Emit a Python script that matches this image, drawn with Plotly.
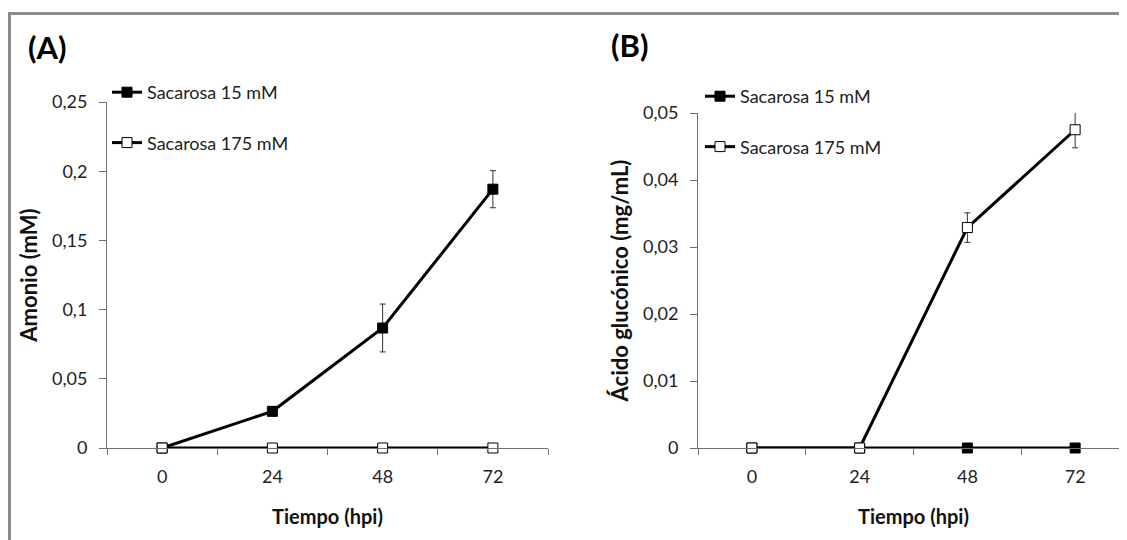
import plotly.graph_objects as go

# ---- data ----
hours = ["0", "24", "48", "72"]
amonio_15 = [0.0, 0.0265, 0.0867, 0.187]
amonio_15_err = [0.0, 0.0, 0.0173, 0.0134]
amonio_175 = [0.0, 0.0, 0.0, 0.0]
gluc_15 = [0.0, 0.0, 0.0, 0.0]
gluc_175 = [0.0, 0.0, 0.0329, 0.0475]
gluc_175_err = [0.0, 0.0, 0.0022, 0.0027]
series_names = ["Sacarosa 15 mM", "Sacarosa 175 mM"]

W, H = 1127, 540
OFF = 8  # page body margin offset
FONT = "Lato"
AXC = "#6f6f6f"

def px_x(v):
    return (v - OFF) / W

def px_y(v):
    return 1 - (v - OFF) / H

fig = go.Figure()

def add(x, y, err, name, filled, xa, ya, leg, grp):
    fig.add_trace(go.Scatter(
        x=x, y=y, name=name, xaxis=xa, yaxis=ya, legend=leg, legendgroup=grp,
        mode="lines+markers", cliponaxis=False,
        line=dict(color="black", width=3),
        marker=dict(symbol="square", size=10,
                    color="black" if filled else "white",
                    line=dict(color="black", width=1)),
        error_y=dict(type="data", array=err, visible=err is not None,
                     color="#333333", thickness=1, width=3),
    ))

add(hours, amonio_15, amonio_15_err, series_names[0], True, "x", "y", "legend", "a15")
add(hours, amonio_175, None, series_names[1], False, "x", "y", "legend", "a175")
add(hours, gluc_15, None, series_names[0], True, "x2", "y2", "legend2", "b15")
add(hours, gluc_175, gluc_175_err, series_names[1], False, "x2", "y2", "legend2", "b175")

XTITLE_FONT = dict(family=FONT, size=20, color="#111")
YTITLE_FONT = dict(family=FONT, size=22, color="#111")
xcommon = dict(type="category", tickson="boundaries", ticks="outside", ticklen=6,
               tickcolor=AXC, showline=True, linecolor=AXC, linewidth=1,
               showgrid=False, zeroline=False, range=[-0.5, 3.5], automargin=False,
               tickfont=dict(family=FONT, size=18, color="#222"),
               ticklabelstandoff=12)
ycommon = dict(ticks="outside", ticklen=7, tickcolor=AXC, showline=True,
               linecolor=AXC, linewidth=1, showgrid=False, zeroline=False,
               automargin=False,
               tickfont=dict(family=FONT, size=18, color="#222"),
               ticklabelstandoff=8)

fig.update_layout(
    width=W, height=H, margin=dict(l=0, r=0, t=0, b=0, autoexpand=False),
    paper_bgcolor="white", plot_bgcolor="white",
    font=dict(family=FONT, color="#111"),
    xaxis=dict(xcommon, domain=[px_x(107), px_x(548)], anchor="y",
               title=dict(text="<b>Tiempo (hpi)</b>", font=XTITLE_FONT, standoff=24)),
    yaxis=dict(ycommon, domain=[px_y(448), px_y(102)], anchor="x", range=[0, 0.25],
               tickvals=[0, 0.05, 0.1, 0.15, 0.2, 0.25],
               ticktext=["0", "0,05", "0,1", "0,15", "0,2", "0,25"],
               title=dict(text="<b>Amonio (mM)</b>", font=YTITLE_FONT, standoff=8)),
    xaxis2=dict(xcommon, domain=[px_x(698), px_x(1129)], anchor="y2",
                title=dict(text="<b>Tiempo (hpi)</b>", font=XTITLE_FONT, standoff=24)),
    yaxis2=dict(ycommon, domain=[px_y(448), px_y(113)], anchor="x2", range=[0, 0.05],
                tickvals=[0, 0.01, 0.02, 0.03, 0.04, 0.05],
                ticktext=["0", "0,01", "0,02", "0,03", "0,04", "0,05"],
                title=dict(text="<b>Ácido glucónico (mg/mL)</b>", font=YTITLE_FONT, standoff=8)),
    legend=dict(x=px_x(107), y=px_y(74), xanchor="left", yanchor="top",
                bgcolor="rgba(0,0,0,0)", font=dict(family=FONT, size=18, color="#222"),
                itemwidth=30, traceorder="grouped", tracegroupgap=24),
    legend2=dict(x=px_x(700), y=px_y(78), xanchor="left", yanchor="top",
                 bgcolor="rgba(0,0,0,0)", font=dict(family=FONT, size=18, color="#222"),
                 itemwidth=30, traceorder="grouped", tracegroupgap=24),
    showlegend=True,
)

# outer frame (left and top edges visible)
fig.add_shape(type="line", xref="paper", yref="paper",
              x0=px_x(9.5), x1=px_x(9.5), y0=px_y(13.5), y1=0,
              line=dict(color="#8c8c8c", width=3))
fig.add_shape(type="line", xref="paper", yref="paper",
              x0=px_x(8), x1=1, y0=px_y(13.5), y1=px_y(13.5),
              line=dict(color="#8c8c8c", width=3))

fig.add_annotation(text="<b>(A)</b>", xref="paper", yref="paper",
                   x=px_x(26), y=px_y(47), xanchor="left", yanchor="middle",
                   showarrow=False, font=dict(family=FONT, size=31, color="black"))
fig.add_annotation(text="<b>(B)</b>", xref="paper", yref="paper",
                   x=px_x(609), y=px_y(45), xanchor="left", yanchor="middle",
                   showarrow=False, font=dict(family=FONT, size=31, color="black"))

fig.write_html("out.html")
